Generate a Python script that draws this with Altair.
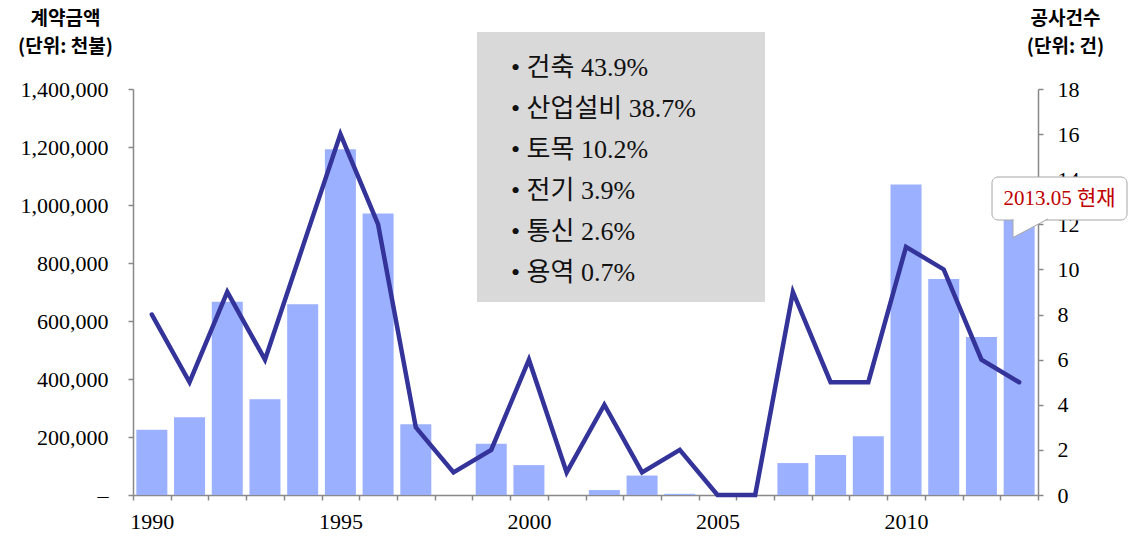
import altair as alt
import pandas as pd

# Contract amount (thousand USD) and number of projects per year
years = list(range(1990, 2014))
amounts = [225000, 268000, 666000, 330000, 658000, 1192000, 971000, 244000, 0, 177000,
           103000, 0, 17000, 67000, 4000, 0, 0, 110000, 138000, 203000,
           1071000, 745000, 545000, 1010000]
counts = [8, 5, 9, 6, 11, 16, 12, 3, 1, 2, 6, 1, 4, 1, 2, 0, 0, 9, 5, 5, 11, 10, 6, 5]

# Share by sector
sectors = ["건축", "산업설비", "토목", "전기", "통신", "용역"]
shares = ["43.9%", "38.7%", "10.2%", "3.9%", "2.6%", "0.7%"]

callout_text = "2013.05 현재"

df = pd.DataFrame({"year": years, "amount": amounts, "count": counts})
one = pd.DataFrame({"k": [0]})

SERIF = "Liberation Serif, Noto Sans CJK KR"
GRAY = "#898989"
W, H = 905, 406
half_step = W / len(years) / 2

x_enc = alt.X(
    "year:Q",
    scale=alt.Scale(domain=[years[0] - 0.5, years[-1] + 0.5], nice=False, zero=False, padding=0),
    axis=alt.Axis(
        values=[y - 0.5 for y in years] + [years[-1] + 0.5],
        labelExpr="(datum.value + 0.5) % 5 == 0 ? format(datum.value + 0.5, 'd') : ''",
        labelOffset=half_step,
        labelOverlap=False,
        labelFlush=False,
        labelPadding=11,
        tickSize=5,
        grid=False,
        title=None,
    ),
)

bars = alt.Chart(df).mark_bar(color="#9BB0FF", size=31).encode(
    x=x_enc,
    y=alt.Y(
        "amount:Q",
        scale=alt.Scale(domain=[0, 1400000], nice=False),
        axis=alt.Axis(
            values=list(range(0, 1400001, 200000)),
            labelExpr="datum.value == 0 ? '–' : format(datum.value, ',')",
            tickSize=5,
            labelPadding=20,
            grid=False,
            title=["계약금액", "(단위: 천불)"],
            titleAngle=0,
            titleX=-68,
            titleY=-80,
            titleAlign="center",
            titleBaseline="top",
            titleFont="Noto Sans CJK KR",
            titleFontSize=19,
            titleFontWeight="bold",
            titleLineHeight=28,
        ),
    ),
)

line = alt.Chart(df).mark_line(color="#333399", strokeWidth=4.5, strokeCap="round").encode(
    x=x_enc,
    y=alt.Y(
        "count:Q",
        scale=alt.Scale(domain=[0, 18], nice=False),
        axis=alt.Axis(
            orient="right",
            values=list(range(0, 19, 2)),
            tickSize=5,
            labelPadding=14,
            grid=False,
            title=["공사건수", "(단위: 건)"],
            titleAngle=0,
            titleX=27,
            titleY=-80,
            titleAlign="center",
            titleBaseline="top",
            titleFont="Noto Sans CJK KR",
            titleFontSize=19,
            titleFontWeight="bold",
            titleLineHeight=28,
        ),
    ),
)

# Sector share box
box = alt.Chart(one).mark_rect(color="#D9D9D9").encode(
    x=alt.value(344), x2=alt.value(632), y=alt.value(-57), y2=alt.value(213)
)
box_text = alt.Chart(one).mark_text(
    align="left", baseline="middle", font=SERIF, fontSize=26,
    lineBreak="\n", lineHeight=41, color="#111111",
).encode(
    x=alt.value(378), y=alt.value(-21),
    text=alt.value("\n".join(f"• {s} {p}" for s, p in zip(sectors, shares))),
)

# Callout on the last bar
bubble = alt.Chart(one).mark_rect(
    fill="white", stroke="#A6A6A6", strokeWidth=1, cornerRadius=6
).encode(x=alt.value(859), x2=alt.value(994), y=alt.value(88), y2=alt.value(131))
tail = alt.Chart(one).mark_point(
    shape="M -1 -1.06 L -1 0 L 1 -1.06", filled=True, fill="white",
    stroke="#A6A6A6", strokeWidth=1, size=1225, opacity=1,
).encode(x=alt.value(897.5), y=alt.value(148.5))
bubble_text = alt.Chart(one).mark_text(
    font=SERIF, fontSize=21, color="#C00000", align="center", baseline="middle"
).encode(x=alt.value(926.5), y=alt.value(110), text=alt.value(callout_text))

chart = (
    alt.layer(bars, line, box, box_text, bubble, tail, bubble_text)
    .resolve_scale(y="independent")
    .properties(
        width=W, height=H,
        padding={"left": 133, "top": 89, "right": 95, "bottom": 41},
        autosize=alt.AutoSizeParams(type="none"),
    )
    .configure_view(stroke=None)
    .configure_axis(
        domainColor=GRAY, domainWidth=1.5, tickColor=GRAY, tickWidth=1.5,
        labelFont=SERIF, labelFontSize=22, labelColor="#000000",
    )
)

chart.save("out.html", embed_options={"renderer": "svg", "actions": False})
